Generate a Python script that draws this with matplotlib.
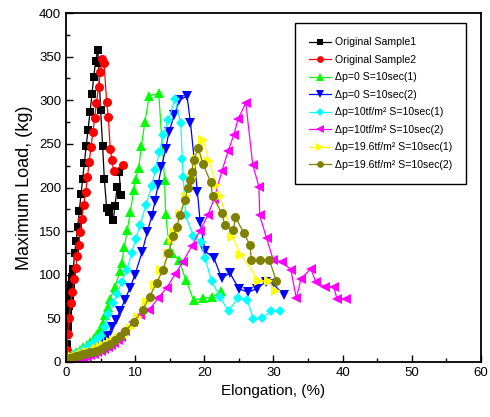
import matplotlib.pyplot as plt
from matplotlib.ticker import MultipleLocator

plt.rcParams['font.family'] = ['Liberation Sans', 'DejaVu Sans']

# Original Sample1
s1_x = [0, 0.05, 0.1, 0.15, 0.22, 0.29, 0.36, 0.43, 0.52, 0.62, 0.74, 0.87, 1.05, 1.26, 1.45,
        1.69, 1.92, 2.17, 2.41, 2.65, 2.93, 3.18, 3.47, 3.76, 4.0, 4.29, 4.58, 4.72, 5.0, 5.3,
        5.54, 5.88, 6.26, 6.84, 7.08, 7.41, 7.9, 7.7]
s1_y = [0, 8, 19, 31, 40, 48, 57, 64, 71, 80, 88, 97, 107, 125, 139,
        155, 173, 192, 210, 228, 248, 266, 286, 307, 327, 345, 358, 343, 289, 247,
        210, 176, 172, 163, 179, 201, 191, 218]

# Original Sample2
s2_x = [0, 0.04, 0.1, 0.24, 0.43, 0.68, 0.91, 1.16, 1.4, 1.63, 1.83, 2.02, 2.27, 2.55, 2.85,
        3.1, 3.35, 3.6, 3.9, 4.15, 4.4, 4.7, 4.95, 5.2, 5.5, 5.88, 6.12, 6.4, 6.65, 6.9, 8.19]
s2_y = [0, 6, 14, 32, 50, 68, 80, 95, 108, 121, 134, 149, 164, 180, 195,
        212, 229, 246, 264, 280, 297, 315, 332, 347, 343, 298, 281, 244, 231, 219, 226]

# dp=0 S=10sec(1)
g_x = [0, 0.5, 1.0, 1.5, 2.0, 2.5, 3.0, 3.5, 4.0, 4.5, 4.9, 5.3, 5.64, 6.0, 6.36, 7.08, 7.8,
       8.05, 8.43, 8.86, 9.3, 9.8, 10.1, 10.5, 10.9, 11.4, 12.04, 13.4, 14.26, 14.4, 14.8,
       15.27, 16.3, 17.34, 18.45, 19.8, 21.1, 22.4]
g_y = [4, 7, 9, 12, 14, 17, 20, 23, 27, 32, 37, 45, 54, 63, 72, 86, 104,
       114, 132, 151, 172, 197, 210, 222, 247, 275, 305, 308, 209, 170, 140,
       125, 117, 94, 71, 73, 74, 81]

# dp=0 S=10sec(2)
b_x = [0, 0.5, 1, 1.5, 2, 2.5, 3, 3.5, 4, 4.5, 5, 5.5, 6.0, 6.6, 7.2, 7.8, 8.5, 9.25, 9.97,
       11.0, 11.75, 12.4, 12.86, 13.3, 13.8, 14.4, 14.9, 15.65, 16.4, 17.5, 18.0, 19.0, 19.4,
       20.1, 21.4, 22.5, 23.7, 25.0, 26.3, 27.6, 28.9, 30.0, 31.5]
b_y = [2, 3, 4, 6, 7, 9, 11, 13, 15, 18, 21, 25, 30, 40, 48, 58, 71, 85, 100,
       126, 149, 167, 184, 203, 223, 244, 264, 283, 300, 305, 274, 195, 160,
       127, 119, 96, 102, 84, 80, 84, 92, 89, 77]

# dp=10tf/m2 S=10sec(1)
c_x = [0, 0.5, 1, 1.5, 2, 2.5, 3, 3.5, 4, 4.5, 5, 5.6, 6.1, 6.84, 7.4, 8.05, 8.77, 9.5, 10.07,
       10.7, 11.56, 12.4, 12.9, 13.5, 14.06, 14.8, 15.75, 16.6, 16.8, 16.95, 17.3, 18.4, 19.5,
       20.1, 21.05, 22.3, 23.5, 24.8, 26.2, 27.1, 28.4, 29.7, 30.9]
c_y = [3, 5, 7, 9, 11, 14, 16, 19, 22, 26, 30, 40, 55, 68, 78, 92, 105, 125, 141,
       157, 180, 202, 220, 241, 260, 277, 301, 274, 233, 212, 168, 144, 138,
       119, 93, 74, 58, 73, 71, 49, 51, 58, 59]

# dp=10tf/m2 S=10sec(2)
m_x = [0, 0.5, 1, 1.5, 2, 2.5, 3, 3.5, 4, 4.5, 5, 5.5, 6, 6.5, 7, 7.5, 8, 8.5, 9.7, 10.7,
       12.04, 13.3, 14.55, 15.8, 16.9, 18.2, 19.35, 20.5, 21.4, 22.55, 23.45, 24.25, 24.9,
       26.0, 27.0, 27.9, 28.0, 29.0, 29.96, 31.2, 32.5, 33.3, 33.96, 35.4, 36.1, 37.4, 38.7,
       39.2, 40.5]
m_y = [0, 1, 2, 3, 4, 5, 6, 8, 9, 11, 13, 15, 17, 19, 22, 25, 29, 35, 46, 54,
       60, 73, 85, 101, 115, 133, 150, 168, 187, 219, 242, 260, 279,
       297, 226, 201, 168, 142, 117, 115, 106, 73, 95, 107, 92, 86, 86,
       72, 72]

# dp=19.6tf/m2 S=10sec(1)
y_x = [0, 0.5, 1, 1.5, 2, 2.5, 3, 3.5, 4, 4.5, 5, 5.5, 6, 6.5, 7, 7.5, 8.3, 9.25, 10.45,
       11.66, 12.86, 13.8, 14.8, 15.3, 15.75, 16.5, 17.3, 18.16, 18.9, 19.84, 20.7, 21.7,
       22.25, 24.05, 25.3, 27.85, 29.3, 30.4]
y_y = [4, 5, 6, 7, 8, 9, 11, 12, 13, 15, 17, 19, 21, 23, 25, 27, 29, 39, 52,
       69, 88, 105, 125, 140, 149, 170, 190, 212, 233, 254, 230, 203,
       190, 143, 123, 93, 93, 81]

# dp=19.6tf/m2 S=10sec(2)
o_x = [0, 0.5, 1, 1.5, 2, 2.5, 3, 3.5, 4, 4.4, 5.0, 5.64, 6.4, 7.08, 7.8, 8.5, 9.83, 11.08,
       12.1, 13.1, 14.0, 14.8, 15.5, 16.0, 16.5, 17.2, 17.6, 17.9, 18.16, 18.5, 19.1, 19.84,
       20.9, 21.2, 22.5, 22.98, 24.2, 24.5, 25.7, 26.6, 26.8, 28.1, 29.4, 30.4]
o_y = [4, 5, 6, 7, 8, 9, 10, 11, 12, 13, 15, 18, 21, 25, 30, 35, 46, 60,
       75, 91, 105, 125, 144, 155, 169, 186, 199, 209, 218, 232, 245, 227,
       206, 190, 171, 157, 151, 166, 148, 134, 117, 117, 117, 93]

series = [
    (s1_x, s1_y, 'black', 's', 5.5, 'Original Sample1'),
    (s2_x, s2_y, 'red', 'o', 6.5, 'Original Sample2'),
    (g_x, g_y, '#00ff00', '^', 7, '\u0394p=0 S=10sec(1)'),
    (b_x, b_y, 'blue', 'v', 7, '\u0394p=0 S=10sec(2)'),
    (c_x, c_y, 'cyan', 'D', 5.5, '\u0394p=10tf/m\u00b2 S=10sec(1)'),
    (m_x, m_y, 'magenta', '<', 7, '\u0394p=10tf/m\u00b2 S=10sec(2)'),
    (y_x, y_y, 'yellow', '>', 7, '\u0394p=19.6tf/m\u00b2 S=10sec(1)'),
    (o_x, o_y, '#808000', 'o', 6.5, '\u0394p=19.6tf/m\u00b2 S=10sec(2)'),
]

fig = plt.figure(figsize=(4.9, 4.17), dpi=100)
ax = fig.add_axes([0.1347, 0.1319, 0.8469, 0.8369])

for x, y, col, mk, ms, lab in series:
    ax.plot(x, y, color=col, marker=mk, markersize=ms, linewidth=0.9,
            markeredgewidth=0, label=lab)

ax.set_xlim(0, 60)
ax.set_ylim(0, 400)
ax.xaxis.set_major_locator(MultipleLocator(10))
ax.xaxis.set_minor_locator(MultipleLocator(5))
ax.yaxis.set_major_locator(MultipleLocator(50))
ax.yaxis.set_minor_locator(MultipleLocator(25))
ax.tick_params(which='both', direction='in', labelsize=9.5, width=1)
ax.tick_params(which='major', length=5)
ax.tick_params(which='minor', length=3)
for sp in ax.spines.values():
    sp.set_linewidth(1.3)

ax.set_xlabel('Elongation, (%)', fontsize=11)
ax.set_ylabel('Maximum Load, (kg)', fontsize=13)

leg = ax.legend(loc='upper right', bbox_to_anchor=(0.964, 0.971), fontsize=7.6,
                frameon=True, fancybox=False, edgecolor='black', framealpha=1,
                borderpad=1.35, labelspacing=0.71, handlelength=2.1,
                handletextpad=0.3, markerscale=0.75, borderaxespad=0)
leg.get_frame().set_linewidth(1)

fig.savefig('out.png', dpi=100)
